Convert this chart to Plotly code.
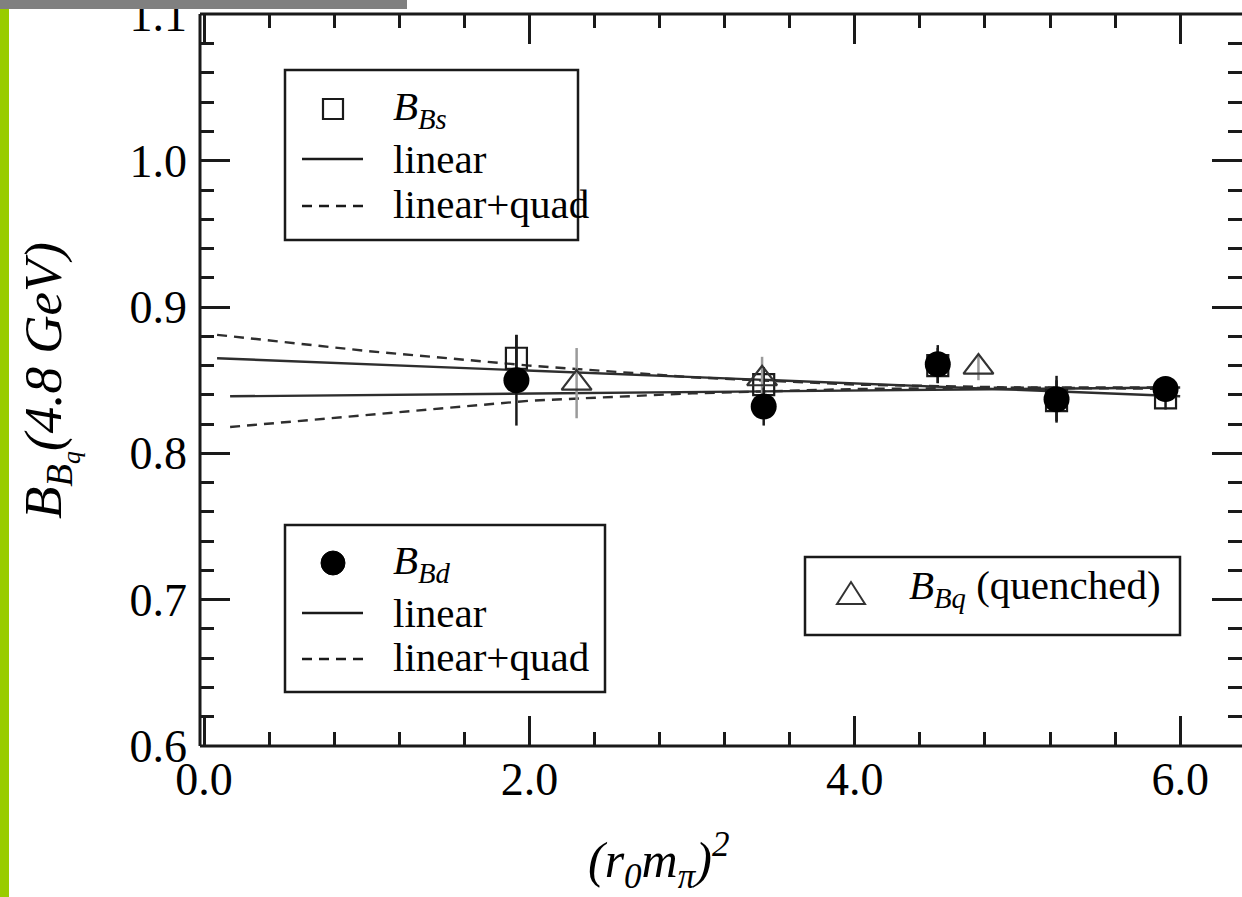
import plotly.graph_objects as go

# ---- data -------------------------------------------------------------
# dynamical B_d points
x_bd = [1.92, 3.44, 4.51, 5.24, 5.91]
y_bd = [0.850, 0.832, 0.861, 0.837, 0.844]
e_bd = [0.031, 0.013, 0.013, 0.016, 0.007]

# dynamical B_s points
x_bs = [1.92, 3.44, 4.51, 5.24, 5.91]
y_bs = [0.865, 0.847, 0.860, 0.836, 0.838]
e_bs = [0.016, 0.012, 0.012, 0.014, 0.008]

# quenched points
x_q = [2.29, 3.43, 4.76]
y_q = [0.848, 0.851, 0.859]
e_q = [0.024, 0.015, 0.009]

# chiral fits
x_fit_bs_lin = [0.08, 6.0]
y_fit_bs_lin = [0.865, 0.839]
x_fit_bs_quad = [0.08, 1.0, 2.0, 3.0, 4.0, 5.0, 6.0]
y_fit_bs_quad = [0.881, 0.870, 0.860, 0.852, 0.847, 0.845, 0.844]
x_fit_bd_lin = [0.16, 6.0]
y_fit_bd_lin = [0.839, 0.845]
x_fit_bd_quad = [0.16, 1.0, 2.0, 3.0, 4.0, 5.0, 6.0]
y_fit_bd_quad = [0.818, 0.826, 0.836, 0.841, 0.844, 0.845, 0.845]

x_ticks = [0.0, 2.0, 4.0, 6.0]
x_tick_text = ["0.0", "2.0", "4.0", "6.0"]
y_ticks = [0.6, 0.7, 0.8, 0.9, 1.0, 1.1]
y_tick_text = ["0.6", "0.7", "0.8", "0.9", "1.0", "1.1"]

# ---- geometry ---------------------------------------------------------
W, H = 1242, 897
ML, MR, MT, MB = 200, 0, 14, 151
PW, PH = W - ML - MR, H - MT - MB

def px(x):
    return (x - ML) / PW

def py(y):
    return 1 - (y - MT) / PH

SERIF = "Liberation Serif"
INK = "#1a1a1a"

fig = go.Figure()

# fit curves
fit_style = dict(mode="lines", hoverinfo="skip", showlegend=False)
fit_col = "#2e2e2e"
fig.add_trace(go.Scatter(x=x_fit_bs_lin, y=y_fit_bs_lin,
                         line=dict(color=fit_col, width=2.4), **fit_style))
fig.add_trace(go.Scatter(x=x_fit_bd_lin, y=y_fit_bd_lin,
                         line=dict(color=fit_col, width=2.4), **fit_style))
fig.add_trace(go.Scatter(x=x_fit_bs_quad, y=y_fit_bs_quad,
                         line=dict(color=fit_col, width=2.4, dash="10px,7px"), **fit_style))
fig.add_trace(go.Scatter(x=x_fit_bd_quad, y=y_fit_bd_quad,
                         line=dict(color=fit_col, width=2.4, dash="10px,7px"), **fit_style))

# B_s squares
fig.add_trace(go.Scatter(
    x=x_bs, y=y_bs, mode="markers", showlegend=False,
    error_y=dict(type="data", array=e_bs, color=INK, thickness=2.5, width=0),
    marker=dict(symbol="square-open", size=21, color=INK, line=dict(width=2.2))))

# quenched triangles
fig.add_trace(go.Scatter(
    x=x_q, y=y_q, mode="markers", showlegend=False,
    error_y=dict(type="data", array=e_q, color="#9a9a9a", thickness=2.5, width=0),
    marker=dict(symbol="triangle-up-open", size=26, color="#333333", line=dict(width=2.2))))

# B_d circles
fig.add_trace(go.Scatter(
    x=x_bd, y=y_bd, mode="markers", showlegend=False,
    error_y=dict(type="data", array=e_bd, color=INK, thickness=2.5, width=0),
    marker=dict(symbol="circle", size=26, color="#000000")))

shapes = []
annotations = []

# spines (left, top, bottom); the right one sits just past the page edge
spine = dict(type="line", xref="paper", yref="paper", line=dict(color=INK, width=3), layer="above")
shapes.append(dict(spine, x0=0, x1=0, y0=0, y1=1))
shapes.append(dict(spine, x0=0, x1=1, y0=1, y1=1))
shapes.append(dict(spine, x0=0, x1=1, y0=0, y1=0))

def box(x0, y0, x1, y1):
    shapes.append(dict(type="rect", xref="paper", yref="paper",
                       x0=px(x0), x1=px(x1), y0=py(y0), y1=py(y1),
                       line=dict(color=INK, width=2.5), fillcolor="rgba(0,0,0,0)"))

def sample_line(x0, x1, y, dash="solid"):
    shapes.append(dict(type="line", xref="paper", yref="paper",
                       x0=px(x0), x1=px(x1), y0=py(y), y1=py(y),
                       line=dict(color=INK, width=2.4, dash=dash)))

def label(x, y, text, size=41, anchor="left"):
    annotations.append(dict(xref="paper", yref="paper", x=px(x), y=py(y),
                            text=text, showarrow=False, xanchor=anchor, yanchor="middle",
                            font=dict(family=SERIF, size=size, color="#000000")))

# legend: B_s
box(285, 70, 578, 240)
shapes.append(dict(type="rect", xref="paper", yref="paper",
                   x0=px(323), x1=px(343), y0=py(99), y1=py(119),
                   line=dict(color=INK, width=2.2)))
label(391, 109, "<i>B<sub>Bs</sub></i>")
sample_line(302, 363, 159)
label(391, 159, "linear")
sample_line(302, 363, 206, dash="10px,7px")
label(391, 204, "linear+quad")

# legend: B_d
box(285, 525, 605, 692)
shapes.append(dict(type="circle", xref="paper", yref="paper",
                   x0=px(321), x1=px(345), y0=py(551), y1=py(575),
                   line=dict(color="#000000", width=1), fillcolor="#000000"))
label(391, 563, "<i>B<sub>Bd</sub></i>")
sample_line(302, 363, 613)
label(391, 613, "linear")
sample_line(302, 363, 659, dash="10px,7px")
label(391, 657, "linear+quad")

# legend: quenched
box(805, 557, 1180, 635)
shapes.append(dict(type="path", xref="paper", yref="paper",
                   path="M {} {} L {} {} L {} {} Z".format(px(837), py(604), px(865), py(604), px(851), py(582)),
                   line=dict(color="#333333", width=2)))
label(907, 588, "<i>B<sub>Bq</sub></i> (quenched)")

# axis titles
annotations.append(dict(xref="paper", yref="paper", x=px(50), y=py(381),
                        text="<i>B<sub>B<sub>q</sub></sub>(4.8 GeV)</i>",
                        textangle=-90, showarrow=False, xanchor="center", yanchor="middle",
                        font=dict(family=SERIF, size=53, color="#000000")))
annotations.append(dict(xref="paper", yref="paper", x=px(658), y=py(860),
                        text="<i>(r<sub>0</sub>m<sub>π</sub>)<sup>2</sup></i>",
                        showarrow=False, xanchor="center", yanchor="middle",
                        font=dict(family=SERIF, size=50, color="#000000")))

# page decorations: green side strip and grey top strip
shapes.append(dict(type="rect", xref="paper", yref="paper",
                   x0=px(0), x1=px(9), y0=py(897), y1=py(0),
                   line=dict(width=0), fillcolor="#99cc00", layer="above"))
shapes.append(dict(type="rect", xref="paper", yref="paper",
                   x0=px(0), x1=px(407), y0=py(9), y1=py(0),
                   line=dict(width=0), fillcolor="#808080", layer="above"))

axis_common = dict(
    showgrid=False, zeroline=False, showline=False, automargin=False,
    ticks="inside", ticklen=30, tickwidth=2.5, tickcolor=INK,
    mirror="allticks", ticklabeloverflow="allow",
    tickfont=dict(family=SERIF, size=46, color="#000000"),
)

fig.update_layout(
    width=W, height=H,
    margin=dict(l=ML, r=MR, t=MT, b=MB, pad=0, autoexpand=False),
    paper_bgcolor="white", plot_bgcolor="white",
    xaxis=dict(axis_common, range=[-0.025, 6.38], tickvals=x_ticks, ticktext=x_tick_text,
               ticklabelstandoff=2,
               minor=dict(dtick=0.4, tick0=0, ticks="inside", ticklen=14, tickwidth=2.5, tickcolor=INK)),
    yaxis=dict(axis_common, range=[0.6, 1.1003], tickvals=y_ticks, ticktext=y_tick_text,
               ticklabelstandoff=12,
               minor=dict(dtick=0.02, tick0=0.6, ticks="inside", ticklen=14, tickwidth=2.5, tickcolor=INK)),
    shapes=shapes, annotations=annotations,
)

fig.write_html("out.html")
